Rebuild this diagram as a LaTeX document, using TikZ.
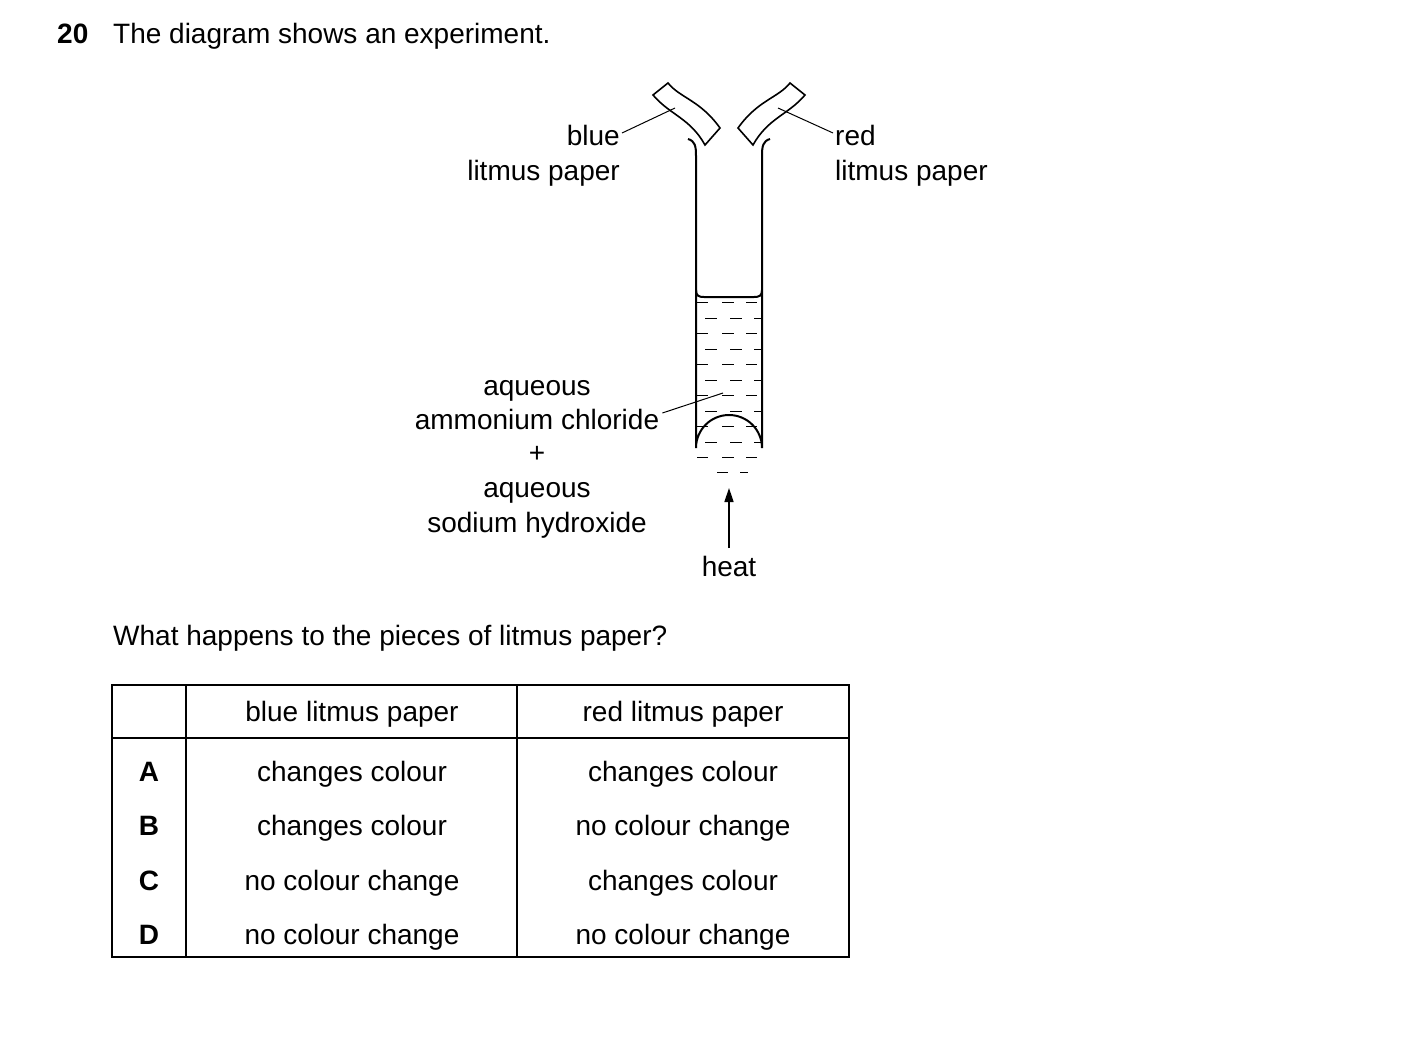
\documentclass[tikz,border=0pt]{standalone}
\usepackage{fontspec}
\setmainfont{Liberation Sans}
\usetikzlibrary{arrows.meta}
\begin{document}
\begin{tikzpicture}[x=1pt,y=-1pt,
  txt/.style={inner sep=0pt,font=\fontsize{28}{32}\selectfont},
  bold/.style={txt,font=\fontsize{28}{32}\selectfont\bfseries},
  tube/.style={line width=2pt},
  lead/.style={line width=1pt},
  liqdash/.style={line width=1pt}]
\useasboundingbox (0,0) rectangle (1403,1050);
\node[bold,anchor=base west] (num) at (57,43) {20};
\node[txt,anchor=base west] (title) at (113,43) {The diagram shows an experiment.};
% tube
\draw[tube] (688,139) .. controls (695,141) and (696,146) .. (696,156) -- (696,448) arc[start angle=180,end angle=360,radius=33] -- (762,156) .. controls (762,146) and (763,141) .. (770,139);
\draw[tube] (696,290) .. controls (696,296) and (699,297) .. (704,297) -- (754,297) .. controls (759,297) and (762,296) .. (762,290);
\foreach \y in {302,333,364,395,426,457}{
  \draw[liqdash] (697,\y)--(708,\y) (722,\y)--(734,\y) (746,\y)--(757,\y);}
\foreach \y in {318,349,380,411,442}{
  \draw[liqdash] (705,\y)--(717,\y) (730,\y)--(742,\y) (754,\y)--(762,\y);}
\draw[liqdash] (717,472)--(728,472) (740,472)--(748,472);
\coordinate (liq) at (723,393);
% litmus papers
\draw[line width=1.6pt] (653,95) -- (668,83) .. controls (680,98) and (700,100) .. (720,128) -- (705,145) .. controls (690,118) and (670,115) .. cycle;
\draw[line width=1.6pt] (805,95) -- (790,83) .. controls (778,98) and (758,100) .. (738,128) -- (753,145) .. controls (768,118) and (788,115) .. cycle;
\coordinate (bp) at (675,108);
\coordinate (rp) at (778,108);
% labels
\node[txt,anchor=base east] (blue) at (620,145) {blue};
\node[txt,anchor=base east] (blue2) at (620,180) {litmus paper};
\node[txt,anchor=base west] (red) at (835,145) {red};
\node[txt,anchor=base west] (red2) at (835,180) {litmus paper};
\draw[lead] ([xshift=2pt,yshift=2pt]blue.east) -- (bp);
\draw[lead] ([xshift=-2pt,yshift=2pt]red.west) -- (rp);
\node[txt,anchor=base] (aq) at (537,395) {aqueous};
\node[txt,anchor=base] (ac) at (537,429) {ammonium chloride};
\node[txt,anchor=base] (plus) at (537,462) {+};
\node[txt,anchor=base] (aq2) at (537,497) {aqueous};
\node[txt,anchor=base] (sh) at (537,532) {sodium hydroxide};
\draw[lead] ([xshift=3pt,yshift=6pt]ac.east) -- (liq);
\node[txt,anchor=base] (heat) at (729,576) {heat};
\coordinate (hs) at (729,548);
\coordinate (he) at (729,488);
\draw[line width=1.6pt,-{Triangle[length=14pt,width=9pt]}] (hs) -- (he);
\node[txt,anchor=base west] (q) at (113,645) {What happens to the pieces of litmus paper?};
% table
\draw[line width=1.4pt] (112,685) rectangle (849,957);
\draw[line width=1.4pt] (112,738) -- (849,738) (186,685) -- (186,957) (517,685) -- (517,957);
\node[txt,anchor=base] (h1) at (352,721) {blue litmus paper};
\node[txt,anchor=base] (h2) at (683,721) {red litmus paper};
\foreach \y/\l/\a/\b in {781/A/changes colour/changes colour,835/B/changes colour/no colour change,890/C/no colour change/changes colour,944/D/no colour change/no colour change}{
  \node[bold,anchor=base] at (149,\y) {\l};
  \node[txt,anchor=base] at (352,\y) {\a};
  \node[txt,anchor=base] at (683,\y) {\b};}
\end{tikzpicture}
\end{document}
